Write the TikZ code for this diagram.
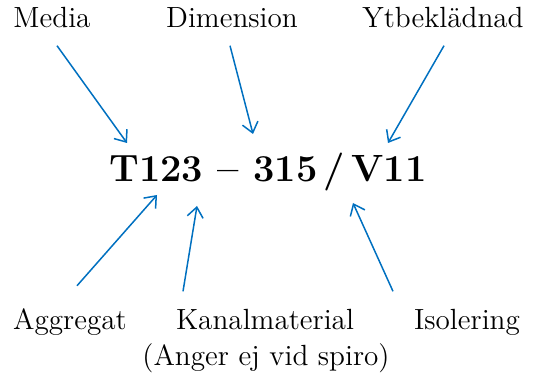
\documentclass[tikz,border=0pt]{standalone}
\usepackage{tikz}
\usepackage{xcolor}
\usetikzlibrary{arrows.meta}
\definecolor{pilblue}{HTML}{0070C0}
\tikzset{
    code-text/.style = {font=\fontsize{19}{22}\selectfont\bfseries, inner sep=0pt, anchor=base},
    part-label/.style = {font=\fontsize{14.6}{17}\selectfont, inner sep=0pt, anchor=base},
    part-arrow/.style = {draw=pilblue, line width=0.75pt, -{Straight Barb[length=5pt,width=8pt]}},
}

\begin{document}
\begin{tikzpicture}[x=0.5pt, y=-0.5pt]
\useasboundingbox (0,0) rectangle (536,379);
\node[code-text] (code) at (268,182) {T123 -- 315\,/\,V11};
% upper labels
\node[part-label] (media) at (52,28) {Media};
\node[part-label] (dimension) at (232,28) {Dimension};
\node[part-label] (ytbekladnad) at (443,28) {Ytbeklädnad};
% lower labels
\node[part-label] (aggregat) at (70,330) {Aggregat};
\node[part-label] (kanalmaterial) at (265,330) {Kanalmaterial};
\node[part-label] (spiro) at (266,366) {(Anger ej vid spiro)};
\node[part-label] (isolering) at (467,330) {Isolering};
% arrow ends
\coordinate (media-end) at (127,143);
\coordinate (dimension-end) at (253,134);
\coordinate (ytbekladnad-end) at (388,143);
\coordinate (aggregat-end) at (157,195);
\coordinate (kanalmaterial-end) at (197,206);
\coordinate (isolering-end) at (353,203);
\draw[part-arrow] ([shift={(5,17)}]media.south) -- (media-end);
\draw[part-arrow] ([shift={(-2,17)}]dimension.south) -- (dimension-end);
\draw[part-arrow] ([shift={(1,17)}]ytbekladnad.south) -- (ytbekladnad-end);
\draw[part-arrow] ([shift={(7,-23)}]aggregat.north) -- (aggregat-end);
\draw[part-arrow] ([shift={(-82,-18)}]kanalmaterial.north) -- (kanalmaterial-end);
\draw[part-arrow] ([shift={(-74,-18)}]isolering.north) -- (isolering-end);
\end{tikzpicture}
\end{document}
